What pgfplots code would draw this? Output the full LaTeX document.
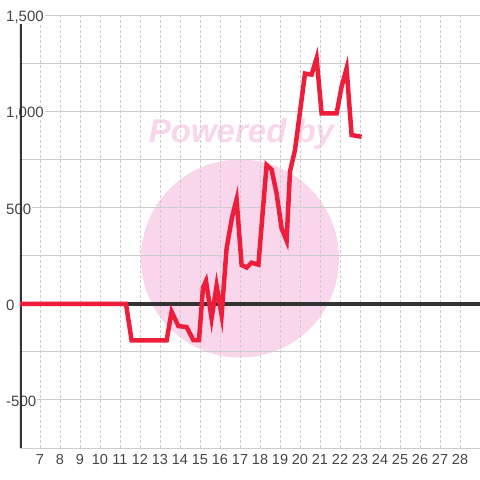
\documentclass[border=0pt]{standalone}
\usepackage{fontspec}
\setmainfont{Liberation Sans}
\usepackage{pgfplots}
\pgfplotsset{compat=1.18}
\definecolor{linered}{HTML}{EE1E3A}
\definecolor{wmpink}{HTML}{FAD6EC}
\definecolor{gridgrey}{HTML}{CCCCCC}
\definecolor{axisdark}{HTML}{333333}
\definecolor{labelgrey}{HTML}{444444}
\begin{document}
\begin{tikzpicture}
\fill[white] (0,0) rectangle (480bp,480bp);
\fill[wmpink] (240bp,221.5bp) circle[radius=99bp];
\node[text=wmpink, font=\fontsize{33bp}{36bp}\selectfont\bfseries\itshape] at (241.5bp,346bp) {Powered by};
\begin{axis}[
 at={(20bp,32bp)}, anchor=south west,
 width=460bp, height=432bp, scale only axis,
 xmin=6, xmax=29, ymin=-750, ymax=1500,
 xtick={7,...,28},
 ytick={-500,0,500,1000,1500},
 minor ytick={-750,-250,250,750,1250},
 xmajorgrids, ymajorgrids, yminorgrids,
 major x grid style={gridgrey, dash pattern=on 2.5bp off 2.5bp, line width=0.8bp},
 major y grid style={gridgrey, line width=1bp},
 minor y grid style={gridgrey, line width=1bp},
 axis line style={draw=none},
 tick style={draw=none},
 /pgf/number format/assume math mode=true,
 xticklabel style={font=\fontsize{14.5bp}{16bp}\selectfont, text=labelgrey, yshift=-3bp},
 yticklabel style={anchor=west, xshift=-15bp, yshift=-1bp, fill=white, inner sep=1bp, font=\fontsize{15bp}{16bp}\selectfont, text=labelgrey},
]
\draw[axisdark, line width=3.5bp] (axis cs:6,-750) -- (axis cs:6,1458);
\draw[axisdark, line width=3.5bp] (axis cs:6,0) -- (axis cs:29,0);
\addplot[linered, line width=4.5bp, mark=none] coordinates {
(6,0) (11.3,0) (11.58,-190) (13.33,-190) (13.58,-40) (13.92,-115) (14.33,-120)
(14.67,-188) (14.95,-188) (15.15,85) (15.3,120) (15.58,-75) (15.83,95) (16.08,-57)
(16.33,290) (16.6,450) (16.83,545) (17.08,203) (17.33,190) (17.58,215) (17.92,205)
(18.33,724) (18.58,700) (18.83,576) (19.08,394) (19.33,330) (19.5,690) (19.75,802)
(20.25,1200) (20.58,1195) (20.83,1280) (21.08,993) (21.83,993) (22.08,1132)
(22.33,1227) (22.58,880) (23.08,871)
};
\end{axis}
\pgfresetboundingbox
\path[use as bounding box] (0,0) rectangle (480bp,480bp);
\end{tikzpicture}
\end{document}
